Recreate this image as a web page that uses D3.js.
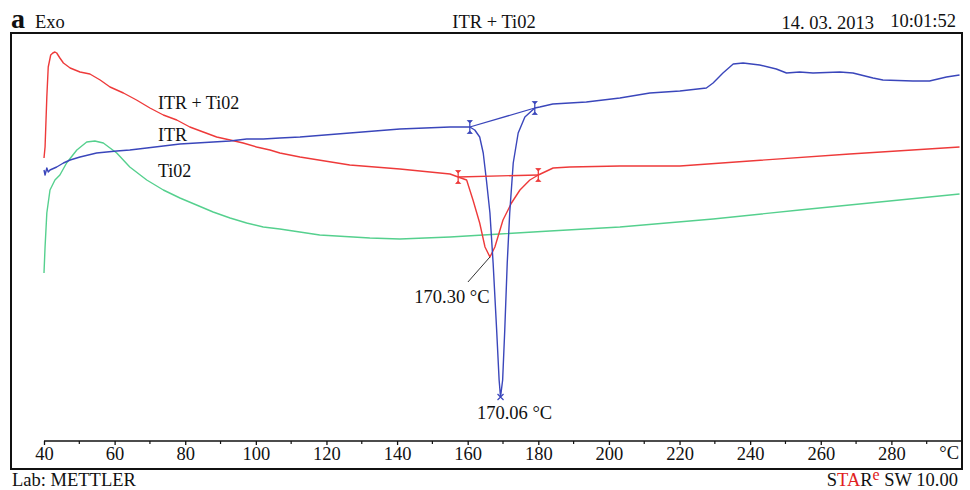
<!DOCTYPE html>
<html>
<head>
<meta charset="utf-8">
<script src="https://cdn.jsdelivr.net/npm/d3@7"></script>
<style>
  body { margin: 0; background: #fff; }
  text { font-family: "Liberation Serif", "DejaVu Serif", serif; fill: #111; }
</style>
</head>
<body>
<div class="graph"></div>
<script>
// DSC curves, temperature (°C) vs heat flow (arbitrary units, Exo up)

var itrTiTemp = [40.0, 40.3, 40.8, 41.2, 41.9, 42.5, 43.1, 43.6, 44.5, 45.5, 47.4, 50.2, 53.0, 55.9, 58.7, 62.5, 66.2, 70.0, 73.8, 77.6, 81.3, 85.1, 88.9, 92.7, 96.4, 100.2, 104.0, 106.8, 112.5, 126.6, 140.8, 155.0, 157.3, 159.7, 161.5, 163.4, 164.9, 166.3, 167.7, 170.0, 172.4, 174.8, 177.6, 180.0, 184.2, 188.9, 203.1, 220.1, 239.9, 268.2, 299.3];
var itrTiFlow = [28.3, 29.4, 34.4, 37.4, 38.6, 38.8, 38.9, 38.8, 38.3, 37.8, 37.3, 36.9, 36.7, 36.1, 35.4, 34.8, 34.1, 33.3, 32.6, 32.1, 31.4, 30.9, 30.4, 30.1, 29.8, 29.4, 29.1, 28.8, 28.4, 27.6, 27.2, 26.7, 26.4, 26.1, 24.1, 21.8, 19.4, 18.4, 19.4, 22.1, 23.8, 25.1, 26.1, 26.6, 27.3, 27.4, 27.5, 27.5, 28.0, 28.7, 29.4];

var itrTemp = [40.0, 40.3, 40.8, 41.2, 41.7, 43.6, 45.5, 47.4, 50.2, 54.9, 60.6, 64.3, 69.1, 73.8, 78.5, 83.2, 87.9, 92.7, 97.4, 102.1, 106.8, 112.5, 126.6, 140.8, 155.0, 160.6, 162.0, 163.4, 164.4, 165.3, 166.3, 167.2, 168.2, 168.9, 169.3, 169.9, 170.5, 171.2, 171.9, 172.9, 174.3, 176.2, 179.0, 180.4, 184.1, 193.6, 203.1, 211.6, 220.1, 227.6, 229.5, 232.3, 235.2, 238.0, 242.7, 247.4, 250.3, 254.0, 257.8, 265.4, 269.1, 274.8, 277.6, 286.1, 290.8, 295.6, 299.3];
var itrFlow = [27.1, 26.6, 27.3, 26.9, 27.1, 27.4, 27.8, 28.1, 28.4, 28.8, 29.0, 29.1, 29.3, 29.5, 29.7, 29.8, 29.9, 30.0, 30.2, 30.2, 30.3, 30.4, 30.8, 31.2, 31.4, 31.4, 31.1, 30.4, 28.8, 26.1, 22.8, 17.8, 11.1, 6.1, 4.4, 6.1, 11.1, 17.8, 22.8, 27.8, 30.8, 32.4, 33.3, 33.4, 33.7, 33.9, 34.3, 34.8, 35.0, 35.3, 35.8, 36.8, 37.7, 37.8, 37.6, 37.2, 36.8, 36.9, 36.8, 36.9, 36.8, 36.3, 36.1, 36.0, 36.0, 36.4, 36.6];

var tiTemp = [40.0, 40.3, 40.8, 41.7, 43.1, 44.5, 46.4, 49.3, 52.1, 54.4, 56.8, 60.6, 64.3, 69.1, 73.8, 78.5, 83.2, 87.9, 92.7, 97.4, 102.1, 106.8, 118.1, 132.3, 140.8, 155.0, 169.1, 183.3, 203.1, 229.5, 254.0, 299.3];
var tiFlow = [16.8, 19.4, 22.8, 25.1, 26.1, 26.6, 27.8, 29.1, 29.9, 30.0, 29.8, 28.8, 27.4, 26.1, 25.1, 24.3, 23.6, 22.9, 22.3, 21.8, 21.4, 21.2, 20.6, 20.3, 20.2, 20.4, 20.7, 21.0, 21.4, 22.2, 23.1, 24.7];

// onset / endset / peak of each melting peak
var itrTiMarks = [[157.3, 26.4], [180.0, 26.6]];
var itrTiPeak = [166.3, 18.4];
var itrMarks = [[160.6, 31.4], [179.0, 33.3]];
var itrPeak = [169.3, 4.4];

var xTicks = [40, 60, 80, 100, 120, 140, 160, 180, 200, 220, 240, 260, 280];
var xMinor = [50, 70, 90, 110, 130, 150, 170, 190, 210, 230, 250, 270, 290, 300];

var red = "#ee3a3a", blue = "#3a46bb", green = "#55d08e";
var fs = 18.5; // text size used almost everywhere

var width = 970, height = 490;

var svg = d3.select(".graph").append("svg")
    .attr("width", width)
    .attr("height", height);

var x = d3.scaleLinear().domain([40, 300]).range([44, 962]);
var y = d3.scaleLinear().domain([0, 41]).range([441, 31]);

// frame
svg.append("rect")
    .attr("x", 11).attr("y", 33)
    .attr("width", 951).attr("height", 436)
    .attr("fill", "none").attr("stroke", "#111").attr("stroke-width", 2);

// temperature axis
var xAxis = d3.axisBottom(x).tickValues(xTicks).tickSize(4).tickPadding(2)
    .tickFormat(d3.format("d"));
var gx = svg.append("g")
    .attr("transform", "translate(0,441)")
    .call(xAxis);
gx.select(".domain").attr("d", "M44,0H962").attr("stroke", "#111").attr("stroke-width", 1.3);
gx.selectAll(".tick line").attr("stroke", "#111").attr("stroke-width", 1.3);
gx.selectAll(".tick text")
    .attr("font-family", "Liberation Serif, serif")
    .attr("font-size", fs).attr("fill", "#111");

gx.selectAll(".minor").data(xMinor).enter().append("line")
    .attr("class", "minor")
    .attr("x1", function(d) { return x(d); }).attr("x2", function(d) { return x(d); })
    .attr("y1", 0).attr("y2", 3)
    .attr("stroke", "#111").attr("stroke-width", 1.2);

gx.append("text")
    .attr("x", 959).attr("y", 18)
    .attr("text-anchor", "end")
    .attr("font-size", fs)
    .text("°C");

// curves
var line = d3.line()
    .x(function(d) { return x(d[0]); })
    .y(function(d) { return y(d[1]); });

function pairs(t, v) { return t.map(function(d, i) { return [d, v[i]]; }); }

var series = [
    {data: pairs(tiTemp, tiFlow), color: green},
    {data: pairs(itrTiTemp, itrTiFlow), color: red},
    {data: pairs(itrTemp, itrFlow), color: blue}
];

svg.selectAll(".curve").data(series).enter().append("path")
    .attr("class", "curve")
    .attr("d", function(d) { return line(d.data); })
    .attr("fill", "none")
    .attr("stroke", function(d) { return d.color; })
    .attr("stroke-width", 1.4)
    .attr("stroke-linejoin", "round");

// integration baselines and onset marks
function drawMarks(marks, color) {
    svg.append("path")
        .attr("d", line(marks))
        .attr("fill", "none").attr("stroke", color).attr("stroke-width", 1.3);
    marks.forEach(function(m) {
        var px = x(m[0]), py = y(m[1]);
        svg.append("line")
            .attr("x1", px).attr("x2", px)
            .attr("y1", py - 5).attr("y2", py + 5)
            .attr("stroke", color).attr("stroke-width", 1.3);
        svg.append("path")
            .attr("d", "M" + px + "," + (py - 4) + "l2.5,-2.5l-5,0z" +
                       "M" + px + "," + (py + 4) + "l2.5,2.5l-5,0z")
            .attr("fill", color).attr("stroke", color).attr("stroke-width", 0.8);
    });
}
drawMarks(itrTiMarks, red);
drawMarks(itrMarks, blue);

// peak markers
var bx = x(itrPeak[0]), by = y(itrPeak[1]);
svg.append("path")
    .attr("d", "M" + (bx - 3) + "," + (by - 3) + "l6,6M" + (bx + 3) + "," + (by - 3) + "l-6,6")
    .attr("stroke", blue).attr("stroke-width", 1.2);

var rx = x(itrTiPeak[0]), ry = y(itrTiPeak[1]);
svg.append("line")
    .attr("x1", rx).attr("y1", ry)
    .attr("x2", rx - 22).attr("y2", ry + 25)
    .attr("stroke", "#333").attr("stroke-width", 1);

svg.append("text")
    .attr("x", rx - 38).attr("y", ry + 46)
    .attr("text-anchor", "middle").attr("font-size", fs)
    .text("170.30 °C");

svg.append("text")
    .attr("x", bx + 14).attr("y", by + 22)
    .attr("text-anchor", "middle").attr("font-size", fs)
    .text("170.06 °C");

// curve labels
svg.append("text").attr("x", 158).attr("y", 109).attr("font-size", 18).text("ITR + Ti02");
svg.append("text").attr("x", 158).attr("y", 141).attr("font-size", 18).text("ITR");
svg.append("text").attr("x", 158).attr("y", 177).attr("font-size", 18).text("Ti02");

// header
svg.append("text").attr("x", 11).attr("y", 28)
    .attr("font-size", 28).attr("font-weight", "bold").text("a");
svg.append("text").attr("x", 35).attr("y", 28).attr("font-size", fs).text("Exo");
svg.append("text").attr("x", 494).attr("y", 28)
    .attr("text-anchor", "middle").attr("font-size", fs).text("ITR + Ti02");
svg.append("text").attr("x", 874).attr("y", 29)
    .attr("text-anchor", "end").attr("font-size", fs).text("14. 03. 2013");
svg.append("text").attr("x", 956).attr("y", 27)
    .attr("text-anchor", "end").attr("font-size", fs).text("10:01:52");

// footer
svg.append("text").attr("x", 12).attr("y", 486).attr("font-size", fs).text("Lab: METTLER");
var star = svg.append("text").attr("x", 958).attr("y", 486)
    .attr("text-anchor", "end").attr("font-size", fs);
star.append("tspan").text("S");
star.append("tspan").style("fill", "#e02020").text("TA");
star.append("tspan").text("R");
star.append("tspan").attr("dy", -6).attr("font-size", 16).style("fill", "#e02020").text("e");
star.append("tspan").attr("dy", 6).text(" SW 10.00");
</script>
</body>
</html>
